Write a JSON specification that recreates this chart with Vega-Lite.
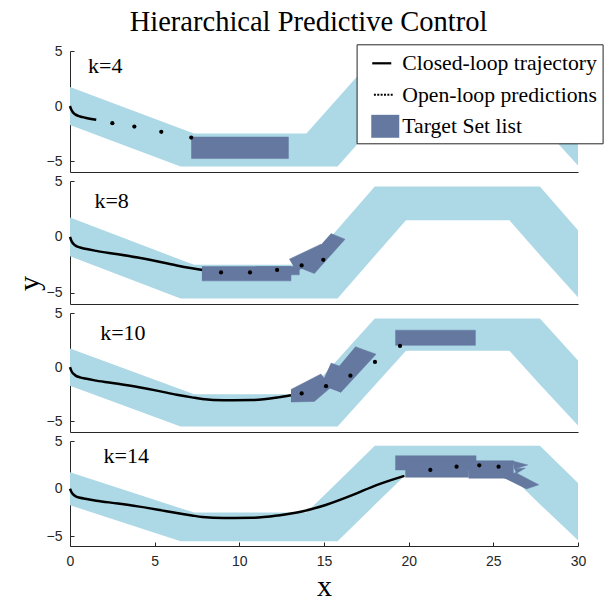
{
  "$schema": "https://vega.github.io/schema/vega-lite/v6.json",
  "padding": {"left": 14, "top": 8, "right": 0, "bottom": 0},
  "title": {"text": "Hierarchical Predictive Control", "font": "Liberation Serif", "fontSize": 28.5, "fontWeight": "normal", "color": "black", "anchor": "middle", "offset": 7},
  "config": {
    "view": {"stroke": null},
    "axis": {"grid": false, "labelFont": "Liberation Sans", "labelFontSize": 14, "labelColor": "#262626", "domainColor": "#262626", "tickColor": "#262626", "titleFont": "Liberation Serif", "titleFontSize": 30, "titleFontWeight": "normal", "titleColor": "black"}
  },
  "spacing": 2,
  "datasets": {
    "corridor": [
      {"x": 0, "top": 1.73, "bottom": -1.73},
      {"x": 6.53, "top": -2.04, "bottom": -5.5},
      {"x": 7.33, "top": -2.5, "bottom": -5.5},
      {"x": 13.96, "top": -2.5, "bottom": -5.5},
      {"x": 15.8, "top": 0.69, "bottom": -5.5},
      {"x": 18.0, "top": 4.5, "bottom": -1.69},
      {"x": 19.84, "top": 4.5, "bottom": 1.5},
      {"x": 25.95, "top": 4.5, "bottom": 1.5},
      {"x": 27.75, "top": 4.5, "bottom": -1.62},
      {"x": 30, "top": 0.6, "bottom": -5.4}
    ],
    "traj": [
      {"x": 0, "y": 0, "k0": 4}, {"x": 0.08, "y": -0.35, "k0": 4}, {"x": 0.3, "y": -0.75, "k0": 4}, {"x": 0.6, "y": -0.95, "k0": 4}, {"x": 0.9, "y": -1.06, "k0": 4}, {"x": 1.55, "y": -1.25, "k0": 4},
      {"x": 2.83, "y": -1.55, "k0": 8}, {"x": 4.0, "y": -1.85, "k0": 8}, {"x": 5.2, "y": -2.2, "k0": 8}, {"x": 6.3, "y": -2.55, "k0": 8}, {"x": 7.2, "y": -2.8, "k0": 8}, {"x": 7.8, "y": -2.95, "k0": 8},
      {"x": 9.1, "y": -3.07, "k0": 10}, {"x": 10.8, "y": -3.05, "k0": 10}, {"x": 12.3, "y": -2.8, "k0": 10}, {"x": 13.05, "y": -2.6, "k0": 10},
      {"x": 13.7, "y": -2.38, "k0": 14}, {"x": 15.1, "y": -1.7, "k0": 14}, {"x": 16.7, "y": -0.65, "k0": 14}, {"x": 18.1, "y": 0.38, "k0": 14}, {"x": 19.75, "y": 1.35, "k0": 14}
    ],
    "pred": [
      {"k": 4, "x": 2.5, "y": -1.56}, {"k": 4, "x": 3.8, "y": -1.87}, {"k": 4, "x": 5.39, "y": -2.35}, {"k": 4, "x": 7.16, "y": -2.87},
      {"k": 8, "x": 8.92, "y": -3.18}, {"k": 8, "x": 10.63, "y": -3.18}, {"k": 8, "x": 12.23, "y": -2.95}, {"k": 8, "x": 13.68, "y": -2.55}, {"k": 8, "x": 14.96, "y": -2.05},
      {"k": 10, "x": 13.68, "y": -2.44}, {"k": 10, "x": 15.12, "y": -1.77}, {"k": 10, "x": 16.56, "y": -0.79}, {"k": 10, "x": 18.01, "y": 0.48}, {"k": 10, "x": 19.49, "y": 1.95},
      {"k": 14, "x": 21.28, "y": 1.97}, {"k": 14, "x": 22.83, "y": 2.31}, {"k": 14, "x": 24.17, "y": 2.45}, {"k": 14, "x": 25.31, "y": 2.31}
    ],
    "targets": [
      {"k": 4, "id": "4a", "i": 1, "x": 7.16, "y": -2.82}, {"k": 4, "id": "4a", "i": 2, "x": 12.9, "y": -2.82}, {"k": 4, "id": "4a", "i": 3, "x": 12.9, "y": -4.78}, {"k": 4, "id": "4a", "i": 4, "x": 7.16, "y": -4.78},
      {"k": 8, "id": "8a", "i": 1, "x": 7.79, "y": -2.65}, {"k": 8, "id": "8a", "i": 2, "x": 13.05, "y": -2.65}, {"k": 8, "id": "8a", "i": 3, "x": 13.05, "y": -3.93}, {"k": 8, "id": "8a", "i": 4, "x": 7.79, "y": -3.93},
      {"k": 8, "id": "8b", "i": 1, "x": 10.98, "y": -2.65}, {"k": 8, "id": "8b", "i": 2, "x": 13.54, "y": -2.65}, {"k": 8, "id": "8b", "i": 3, "x": 13.54, "y": -3.39}, {"k": 8, "id": "8b", "i": 4, "x": 10.98, "y": -3.39},
      {"k": 8, "id": "8c", "i": 1, "x": 12.95, "y": -1.99}, {"k": 8, "id": "8c", "i": 2, "x": 14.82, "y": -0.65}, {"k": 8, "id": "8c", "i": 3, "x": 14.92, "y": -2.14}, {"k": 8, "id": "8c", "i": 4, "x": 13.35, "y": -3.03},
      {"k": 8, "id": "8d", "i": 1, "x": 15.41, "y": 0.3}, {"k": 8, "id": "8d", "i": 2, "x": 16.24, "y": -0.21}, {"k": 8, "id": "8d", "i": 3, "x": 14.43, "y": -3.27}, {"k": 8, "id": "8d", "i": 4, "x": 13.6, "y": -2.77},
      {"k": 10, "id": "10a", "i": 1, "x": 13.05, "y": -2.07}, {"k": 10, "id": "10a", "i": 2, "x": 14.82, "y": -0.64}, {"k": 10, "id": "10a", "i": 3, "x": 15.41, "y": -1.86}, {"k": 10, "id": "10a", "i": 4, "x": 14.43, "y": -3.17}, {"k": 10, "id": "10a", "i": 5, "x": 13.05, "y": -3.23},
      {"k": 10, "id": "10b", "i": 1, "x": 15.41, "y": 0.37}, {"k": 10, "id": "10b", "i": 2, "x": 16.4, "y": -0.18}, {"k": 10, "id": "10b", "i": 3, "x": 16.0, "y": -2.32}, {"k": 10, "id": "10b", "i": 4, "x": 14.82, "y": -1.65},
      {"k": 10, "id": "10c", "i": 1, "x": 16.85, "y": 1.89}, {"k": 10, "id": "10c", "i": 2, "x": 18.07, "y": 1.19}, {"k": 10, "id": "10c", "i": 3, "x": 16.0, "y": -2.32}, {"k": 10, "id": "10c", "i": 4, "x": 15.02, "y": -1.55},
      {"k": 10, "id": "10d", "i": 1, "x": 19.21, "y": 3.41}, {"k": 10, "id": "10d", "i": 2, "x": 23.94, "y": 3.41}, {"k": 10, "id": "10d", "i": 3, "x": 23.94, "y": 2.01}, {"k": 10, "id": "10d", "i": 4, "x": 19.21, "y": 2.01},
      {"k": 14, "id": "14a", "i": 1, "x": 19.21, "y": 3.45}, {"k": 14, "id": "14a", "i": 2, "x": 23.98, "y": 3.45}, {"k": 14, "id": "14a", "i": 3, "x": 23.98, "y": 1.97}, {"k": 14, "id": "14a", "i": 4, "x": 19.21, "y": 1.97},
      {"k": 14, "id": "14b", "i": 1, "x": 19.8, "y": 2.94}, {"k": 14, "id": "14b", "i": 2, "x": 23.54, "y": 2.94}, {"k": 14, "id": "14b", "i": 3, "x": 23.54, "y": 1.2}, {"k": 14, "id": "14b", "i": 4, "x": 19.8, "y": 1.2},
      {"k": 14, "id": "14c", "i": 1, "x": 23.54, "y": 2.93}, {"k": 14, "id": "14c", "i": 2, "x": 26.18, "y": 2.93}, {"k": 14, "id": "14c", "i": 3, "x": 26.18, "y": 1.1}, {"k": 14, "id": "14c", "i": 4, "x": 23.54, "y": 1.1},
      {"k": 14, "id": "14d", "i": 1, "x": 26.14, "y": 2.9}, {"k": 14, "id": "14d", "i": 2, "x": 27.03, "y": 2.49}, {"k": 14, "id": "14d", "i": 3, "x": 26.24, "y": 2.07},
      {"k": 14, "id": "14e", "i": 1, "x": 26.24, "y": 2.1}, {"k": 14, "id": "14e", "i": 2, "x": 26.89, "y": 2.16}, {"k": 14, "id": "14e", "i": 3, "x": 26.36, "y": 1.59},
      {"k": 14, "id": "14f", "i": 1, "x": 25.65, "y": 1.1}, {"k": 14, "id": "14f", "i": 2, "x": 26.3, "y": 1.7}, {"k": 14, "id": "14f", "i": 3, "x": 27.68, "y": 0.41}, {"k": 14, "id": "14f", "i": 4, "x": 26.94, "y": -0.04}
    ],
    "labels": [
      {"k": 4, "label": "k=4", "x": 2.08, "y": 3.01},
      {"k": 8, "label": "k=8", "x": 2.46, "y": 2.62},
      {"k": 10, "label": "k=10", "x": 3.12, "y": 2.5},
      {"k": 14, "label": "k=14", "x": 3.32, "y": 2.65}
    ],
    "legend": [
      {"series": "Closed-loop trajectory"},
      {"series": "Open-loop predictions"},
      {"series": "Target Set list"}
    ]
  },
  "vconcat": [
    {
      "width": 508, "height": 121,
      "layer": [
        {"data": {"name": "corridor"}, "mark": {"type": "area", "color": "#ADD8E6", "opacity": 1},
         "encoding": {
           "x": {"field": "x", "type": "quantitative", "scale": {"domain": [0, 30], "nice": false, "zero": false}, "axis": {"labels": false, "ticks": false, "title": null}},
           "y": {"field": "top", "type": "quantitative", "scale": {"domain": [-6, 5], "nice": false, "zero": false}, "axis": {"values": [-5, 0, 5], "tickSize": -4, "labelPadding": 12, "title": null}},
           "y2": {"field": "bottom"}}},
        {"data": {"name": "targets"}, "transform": [{"filter": "datum.k == 4"}], "mark": {"type": "line", "fill": "#6478A0", "stroke": "#6478A0", "strokeWidth": 0.5},
         "encoding": {"x": {"field": "x", "type": "quantitative"}, "y": {"field": "y", "type": "quantitative"}, "detail": {"field": "id"}, "order": {"field": "i"}}},
        {"data": {"name": "traj"}, "transform": [{"filter": "datum.k0 <= 4"}], "mark": {"type": "line", "color": "black", "strokeWidth": 2.5, "interpolate": "monotone"},
         "encoding": {"x": {"field": "x", "type": "quantitative"}, "y": {"field": "y", "type": "quantitative"}}},
        {"data": {"name": "pred"}, "transform": [{"filter": "datum.k == 4"}], "mark": {"type": "circle", "color": "black", "size": 18, "opacity": 1},
         "encoding": {"x": {"field": "x", "type": "quantitative"}, "y": {"field": "y", "type": "quantitative"}}},
        {"data": {"name": "labels"}, "transform": [{"filter": "datum.k == 4"}], "mark": {"type": "text", "font": "Liberation Serif", "fontSize": 22, "align": "center", "baseline": "alphabetic", "color": "black"},
         "encoding": {"x": {"field": "x", "type": "quantitative"}, "y": {"field": "y", "type": "quantitative"}, "text": {"field": "label"}}},
        {"data": {"name": "legend"}, "mark": {"type": "point", "filled": true, "opacity": 0},
         "encoding": {
           "color": {"field": "series", "type": "nominal", "scale": {"domain": ["Closed-loop trajectory", "Open-loop predictions", "Target Set list"], "range": ["black", "black", "#6478A0"]},
             "legend": {"title": null, "orient": "none", "legendX": 286.6, "legendY": -6.7, "fillColor": "white", "strokeColor": "#262626", "padding": 5, "symbolSize": 784, "symbolStrokeWidth": 0, "symbolOpacity": 1, "labelFont": "Liberation Serif", "labelFontSize": 21.7, "labelColor": "black", "labelOffset": 12.7, "labelLimit": 400, "rowPadding": 5.5}},
           "shape": {"field": "series", "type": "nominal", "scale": {"domain": ["Closed-loop trajectory", "Open-loop predictions", "Target Set list"], "range": ["M-0.24,-0.08H1.12V0.08H-0.24Z", "M-0.12,-0.07h0.14v0.14h-0.14Z M0.12,-0.07h0.14v0.14h-0.14Z M0.36,-0.07h0.14v0.14h-0.14Z M0.6,-0.07h0.14v0.14h-0.14Z M0.84,-0.07h0.14v0.14h-0.14Z M1.08,-0.07h0.14v0.14h-0.14Z", "M-0.31,-0.82H1.69V0.82H-0.31Z"]},
             "legend": {"title": null, "orient": "none", "legendX": 286.6, "legendY": -6.7, "fillColor": "white", "strokeColor": "#262626", "padding": 5, "symbolSize": 784, "symbolStrokeWidth": 0, "symbolOpacity": 1, "labelFont": "Liberation Serif", "labelFontSize": 21.7, "labelColor": "black", "labelOffset": 12.7, "labelLimit": 400, "rowPadding": 5.5}}}}
      ]
    },
    {
      "width": 508, "height": 123,
      "layer": [
        {"data": {"name": "corridor"}, "mark": {"type": "area", "color": "#ADD8E6", "opacity": 1},
         "encoding": {
           "x": {"field": "x", "type": "quantitative", "scale": {"domain": [0, 30], "nice": false, "zero": false}, "axis": {"labels": false, "ticks": false, "title": null}},
           "y": {"field": "top", "type": "quantitative", "scale": {"domain": [-6, 5], "nice": false, "zero": false}, "axis": {"values": [-5, 0, 5], "tickSize": -4, "labelPadding": 12, "title": "y", "titleAngle": 270, "titleX": -41, "titleY": 102, "titleAlign": "center", "titleBaseline": "middle"}},
           "y2": {"field": "bottom"}}},
        {"data": {"name": "targets"}, "transform": [{"filter": "datum.k == 8"}], "mark": {"type": "line", "fill": "#6478A0", "stroke": "#6478A0", "strokeWidth": 0.5},
         "encoding": {"x": {"field": "x", "type": "quantitative"}, "y": {"field": "y", "type": "quantitative"}, "detail": {"field": "id"}, "order": {"field": "i"}}},
        {"data": {"name": "traj"}, "transform": [{"filter": "datum.k0 <= 8"}], "mark": {"type": "line", "color": "black", "strokeWidth": 2.5, "interpolate": "monotone"},
         "encoding": {"x": {"field": "x", "type": "quantitative"}, "y": {"field": "y", "type": "quantitative"}}},
        {"data": {"name": "pred"}, "transform": [{"filter": "datum.k == 8"}], "mark": {"type": "circle", "color": "black", "size": 18, "opacity": 1},
         "encoding": {"x": {"field": "x", "type": "quantitative"}, "y": {"field": "y", "type": "quantitative"}}},
        {"data": {"name": "labels"}, "transform": [{"filter": "datum.k == 8"}], "mark": {"type": "text", "font": "Liberation Serif", "fontSize": 22, "align": "center", "baseline": "alphabetic", "color": "black"},
         "encoding": {"x": {"field": "x", "type": "quantitative"}, "y": {"field": "y", "type": "quantitative"}, "text": {"field": "label"}}}
      ]
    },
    {
      "width": 508, "height": 119,
      "layer": [
        {"data": {"name": "corridor"}, "mark": {"type": "area", "color": "#ADD8E6", "opacity": 1},
         "encoding": {
           "x": {"field": "x", "type": "quantitative", "scale": {"domain": [0, 30], "nice": false, "zero": false}, "axis": {"labels": false, "ticks": false, "title": null}},
           "y": {"field": "top", "type": "quantitative", "scale": {"domain": [-6, 5], "nice": false, "zero": false}, "axis": {"values": [-5, 0, 5], "tickSize": -4, "labelPadding": 12, "title": null}},
           "y2": {"field": "bottom"}}},
        {"data": {"name": "targets"}, "transform": [{"filter": "datum.k == 10"}], "mark": {"type": "line", "fill": "#6478A0", "stroke": "#6478A0", "strokeWidth": 0.5},
         "encoding": {"x": {"field": "x", "type": "quantitative"}, "y": {"field": "y", "type": "quantitative"}, "detail": {"field": "id"}, "order": {"field": "i"}}},
        {"data": {"name": "traj"}, "transform": [{"filter": "datum.k0 <= 10"}], "mark": {"type": "line", "color": "black", "strokeWidth": 2.5, "interpolate": "monotone"},
         "encoding": {"x": {"field": "x", "type": "quantitative"}, "y": {"field": "y", "type": "quantitative"}}},
        {"data": {"name": "pred"}, "transform": [{"filter": "datum.k == 10"}], "mark": {"type": "circle", "color": "black", "size": 18, "opacity": 1},
         "encoding": {"x": {"field": "x", "type": "quantitative"}, "y": {"field": "y", "type": "quantitative"}}},
        {"data": {"name": "labels"}, "transform": [{"filter": "datum.k == 10"}], "mark": {"type": "text", "font": "Liberation Serif", "fontSize": 22, "align": "center", "baseline": "alphabetic", "color": "black"},
         "encoding": {"x": {"field": "x", "type": "quantitative"}, "y": {"field": "y", "type": "quantitative"}, "text": {"field": "label"}}}
      ]
    },
    {
      "width": 508, "height": 105,
      "layer": [
        {"data": {"name": "corridor"}, "mark": {"type": "area", "color": "#ADD8E6", "opacity": 1},
         "encoding": {
           "x": {"field": "x", "type": "quantitative", "scale": {"domain": [0, 30], "nice": false, "zero": false}, "axis": {"values": [0, 5, 10, 15, 20, 25, 30], "labelFlush": false, "tickSize": -4, "labelPadding": 12, "title": "x", "titlePadding": 3}},
           "y": {"field": "top", "type": "quantitative", "scale": {"domain": [-6, 5], "nice": false, "zero": false}, "axis": {"values": [-5, 0, 5], "tickSize": -4, "labelPadding": 12, "title": null}},
           "y2": {"field": "bottom"}}},
        {"data": {"name": "targets"}, "transform": [{"filter": "datum.k == 14"}], "mark": {"type": "line", "fill": "#6478A0", "stroke": "#6478A0", "strokeWidth": 0.5},
         "encoding": {"x": {"field": "x", "type": "quantitative"}, "y": {"field": "y", "type": "quantitative"}, "detail": {"field": "id"}, "order": {"field": "i"}}},
        {"data": {"name": "traj"}, "transform": [{"filter": "datum.k0 <= 14"}], "mark": {"type": "line", "color": "black", "strokeWidth": 2.5, "interpolate": "monotone"},
         "encoding": {"x": {"field": "x", "type": "quantitative"}, "y": {"field": "y", "type": "quantitative"}}},
        {"data": {"name": "pred"}, "transform": [{"filter": "datum.k == 14"}], "mark": {"type": "circle", "color": "black", "size": 18, "opacity": 1},
         "encoding": {"x": {"field": "x", "type": "quantitative"}, "y": {"field": "y", "type": "quantitative"}}},
        {"data": {"name": "labels"}, "transform": [{"filter": "datum.k == 14"}], "mark": {"type": "text", "font": "Liberation Serif", "fontSize": 22, "align": "center", "baseline": "alphabetic", "color": "black"},
         "encoding": {"x": {"field": "x", "type": "quantitative"}, "y": {"field": "y", "type": "quantitative"}, "text": {"field": "label"}}}
      ]
    }
  ]
}
